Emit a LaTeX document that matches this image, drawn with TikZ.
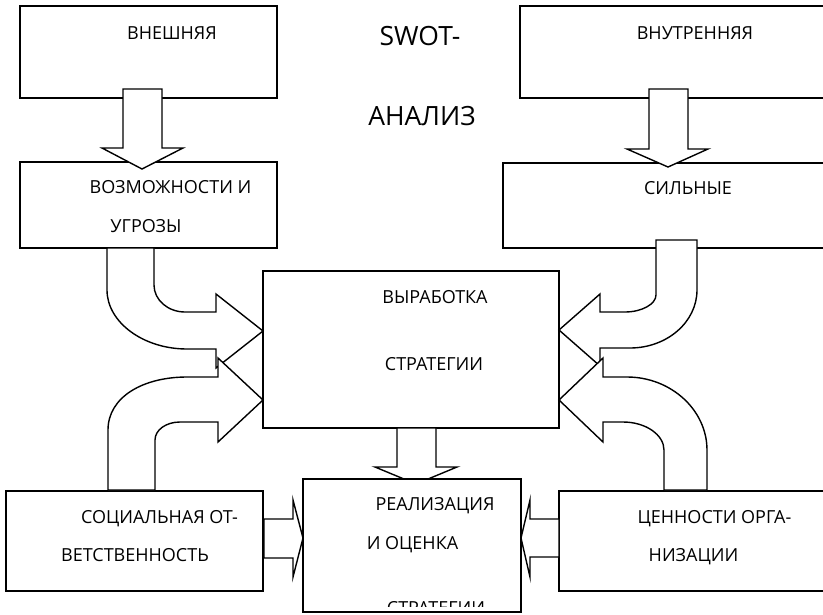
\documentclass[tikz,border=0pt]{standalone}
\usepackage{fontspec}
\setmainfont{Open Sans}
\usetikzlibrary{positioning}
\tikzset{
  box/.style={draw=black,line width=1.4pt,inner sep=0pt,outer sep=0pt},
  boxw/.style={box,fill=white},
  lbl/.style={anchor=base,inner sep=0pt,font=\fontsize{18}{20}\selectfont},
  big/.style={anchor=base,inner sep=0pt,font=\fontsize{26.5}{30}\selectfont},
  barrow/.style={draw=black,fill=white,line width=1.4pt,line join=miter},
}

\begin{document}
\begin{tikzpicture}[x=1pt,y=-1pt]
\clip (0,0) rectangle (823,614);
% boxes
\node[box,minimum width=257pt,minimum height=92pt] (ext) at (148.5,52) {};
\node[box,minimum width=257pt,minimum height=86pt] (opp) at (148.5,205) {};
\node[box,minimum width=320pt,minimum height=92pt] (int) at (680,52) {};
\node[box,minimum width=337pt,minimum height=85pt] (str) at (671.5,205.5) {};
\node[box,minimum width=296pt,minimum height=157pt] (dev) at (411,349.5) {};
\node[box,minimum width=257pt,minimum height=100pt] (soc) at (134.5,541) {};
\node[box,minimum width=281pt,minimum height=100pt] (val) at (699.5,541) {};
% straight block arrows
\draw[barrow] (123,89) -- (162,89) -- (162,148) -- (183,148) -- (142,169)
  -- (102,148) -- (123,148) -- cycle;
\draw[barrow] (649,89) -- (688,89) -- (688,149) -- (708,149) -- (668,167)
  -- (627,149) -- (649,149) -- cycle;
\draw[barrow] (397,428) -- (436,428) -- (436,467) -- (457,467) -- (416,484)
  -- (375,467) -- (397,467) -- cycle;
% curved block arrows, left
\draw[barrow] (107,248) -- (107,290) .. controls (107,322) and (143,349) .. (187,349)
  -- (216,349) -- (216,368) -- (263,331) -- (216,294) -- (216,312) -- (185,312)
  .. controls (168,312) and (154,300) .. (154,285) -- (154,248) -- cycle;
\draw[barrow] (108,490) -- (108,430) .. controls (108,397) and (143,377) .. (187,377)
  -- (218,377) -- (218,358) -- (263,400) -- (218,442) -- (218,422) -- (180,422)
  .. controls (166,422) and (155,430) .. (155,440) -- (155,490) -- cycle;
% curved block arrows, right
\draw[barrow] (697,240) -- (697,290) .. controls (697,322) and (667,348) .. (630,348)
  -- (600,348) -- (600,366) -- (559,330) -- (600,294) -- (600,312) -- (625,312)
  .. controls (642,312) and (656,304) .. (656,295) -- (656,240) -- cycle;
\draw[barrow] (707,490) -- (707,450) .. controls (707,410) and (671,377) .. (627,377)
  -- (603,377) -- (603,358) -- (559,400) -- (603,442) -- (603,422) -- (623,422)
  .. controls (646,422) and (664,435) .. (664,450) -- (664,490) -- cycle;
% side arrows into realisation
\draw[barrow] (264,519) -- (293,519) -- (293,500) -- (303,538) -- (293,577)
  -- (293,558) -- (264,558) -- cycle;
\draw[barrow] (559,519) -- (530,519) -- (530,500) -- (521,538) -- (530,577)
  -- (530,557) -- (559,557) -- cycle;
\node[boxw,minimum width=218pt,minimum height=133pt] (real) at (412,545.5) {};
% texts
\node[big] (swot) at (420,45) {SWOT-};
\node[big] (anal) at (422,125) {АНАЛИЗ};
\node[lbl] (extt) at (172,39) {ВНЕШНЯЯ};
\node[lbl] (intt) at (695,39) {ВНУТРЕННЯЯ};
\node[lbl] (oppa) at (170.5,193) {ВОЗМОЖНОСТИ И};
\node[lbl] (oppb) at (146,232) {УГРОЗЫ};
\node[lbl] (strt) at (688,194) {СИЛЬНЫЕ};
\node[lbl] (deva) at (435,303) {ВЫРАБОТКА};
\node[lbl] (devb) at (434,370) {СТРАТЕГИИ};
\node[lbl] (reaa) at (435,510) {РЕАЛИЗАЦИЯ};
\node[lbl] (reab) at (412.5,549) {И ОЦЕНКА};
\begin{scope}
  \clip (303,479) rectangle (521,606);
  \node[lbl] (reac) at (436,614) {СТРАТЕГИИ};
\end{scope}
\node[lbl] (soca) at (159.5,523) {СОЦИАЛЬНАЯ ОТ-};
\node[lbl] (socb) at (135,561) {ВЕТСТВЕННОСТЬ};
\node[lbl] (vala) at (714.5,523) {ЦЕННОСТИ ОРГА-};
\node[lbl] (valb) at (693.5,561) {НИЗАЦИИ};
\end{tikzpicture}
\end{document}
